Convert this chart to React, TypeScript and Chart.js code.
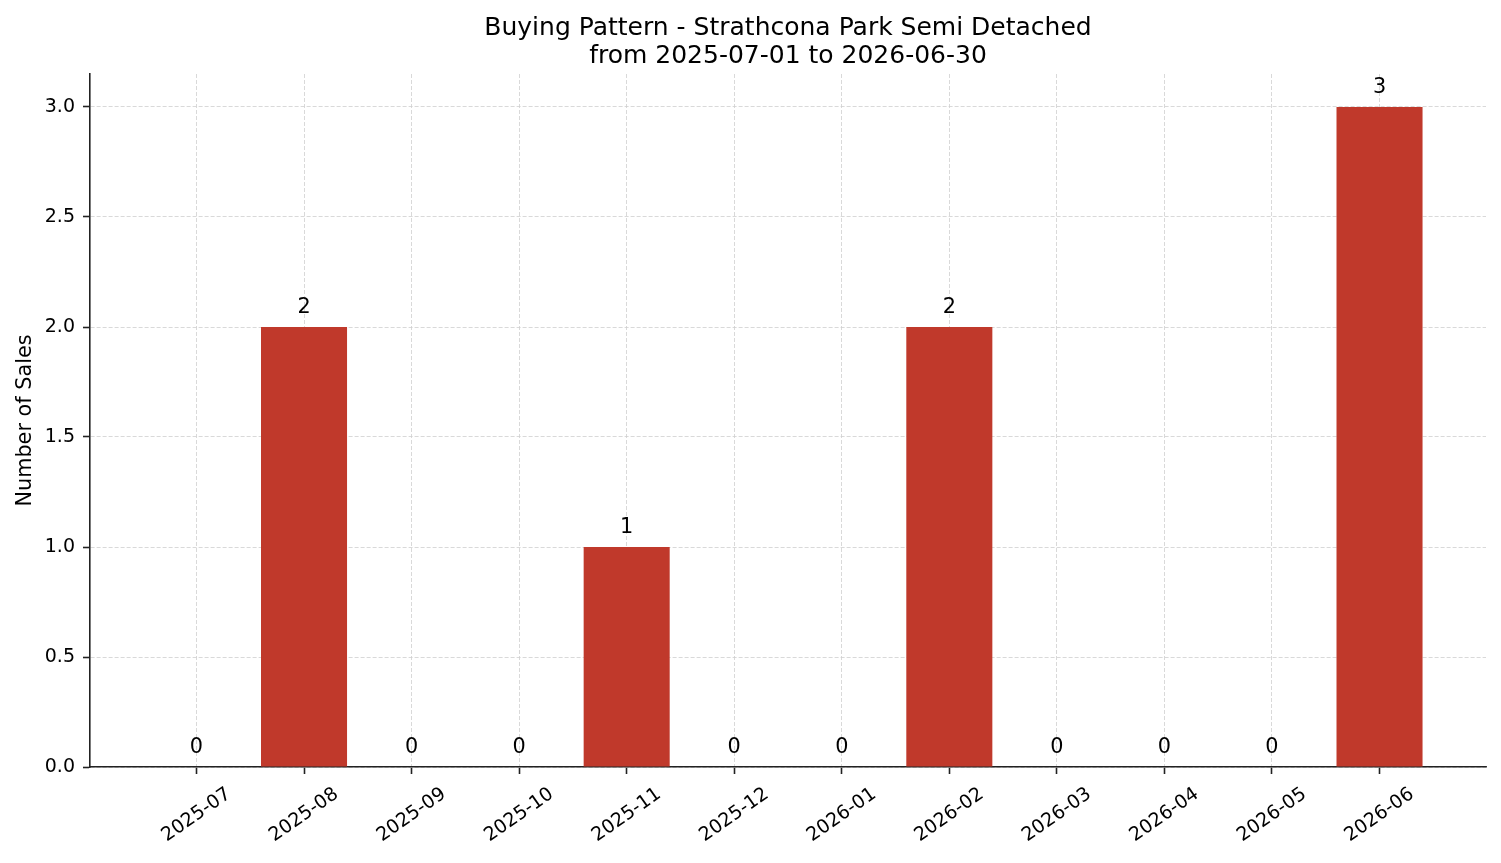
import React, { useEffect, useRef } from "react";
import { Chart, registerables } from "chart.js";

Chart.register(...registerables);

const TITLE_LINES = [
  "Buying Pattern - Strathcona Park Semi Detached",
  "from 2025-07-01 to 2026-06-30",
];
const MONTHS = [
  "2025-07", "2025-08", "2025-09", "2025-10", "2025-11", "2025-12",
  "2026-01", "2026-02", "2026-03", "2026-04", "2026-05", "2026-06",
];
const SALES = [0, 2, 0, 0, 1, 0, 0, 2, 0, 0, 0, 3];
const Y_TICKS = [0, 0.5, 1.0, 1.5, 2.0, 2.5, 3.0];
const Y_MAX = 3.15;
const Y_LABEL = "Number of Sales";

const BAR_COLOR = "#c0392b";
const GRID_COLOR = "#cfcfcf";
const AXIS_COLOR = "#222222";
const FONT = "'DejaVu Sans', 'Liberation Sans', sans-serif";
const W = 1501;
const H = 863;

export default function App() {
  const ref = useRef<HTMLCanvasElement | null>(null);

  useEffect(() => {
    document.body.style.margin = "0";
    document.body.style.overflow = "hidden";
    const canvas = ref.current;
    if (!canvas) return;

    const n = MONTHS.length;
    const span = n - 1 + 0.8;
    const xMin = -0.4 - 0.05 * span;
    const xMax = n - 1 + 0.4 + 0.05 * span;

    const overlay = {
      id: "overlay",
      afterDraw(chart: any) {
        const ctx = chart.ctx;
        const area = chart.chartArea;
        ctx.save();
        ctx.fillStyle = "#000";
        ctx.textAlign = "center";
        ctx.textBaseline = "alphabetic";
        ctx.font = `25px ${FONT}`;
        const cx = (area.left + area.right) / 2;
        ctx.fillText(TITLE_LINES[0], cx, 35);
        ctx.fillText(TITLE_LINES[1], cx, 63);

        ctx.font = `20.8px ${FONT}`;
        const meta = chart.getDatasetMeta(0);
        meta.data.forEach((bar: any, i: number) => {
          ctx.fillText(String(SALES[i]), bar.x, bar.y - 14);
        });

        const xs = chart.scales.x;
        ctx.font = `19px ${FONT}`;
        ctx.textAlign = "center";
        ctx.textBaseline = "middle";
        MONTHS.forEach((m, i) => {
          const px = xs.getPixelForValue(i);
          ctx.save();
          ctx.translate(px, area.bottom + 48);
          ctx.rotate((-35 * Math.PI) / 180);
          ctx.fillText(m, 0, 0);
          ctx.restore();
        });
        ctx.restore();
      },
    };

    const gridOpts = {
      color: GRID_COLOR,
      lineWidth: 0.8,
      offset: false,
      drawTicks: true,
      tickLength: 7,
      tickColor: AXIS_COLOR,
      tickWidth: 1.6,
      tickBorderDash: [],
    };

    const chart = new Chart(canvas, {
      type: "bar",
      data: {
        datasets: [
          {
            data: SALES.map((v, i) => ({ x: i, y: v })),
            backgroundColor: BAR_COLOR,
            borderWidth: 0,
            barPercentage: 0.8,
            categoryPercentage: 1,
          },
        ],
      },
      options: {
        responsive: false,
        animation: false,
        layout: { padding: { top: 74, left: 0, right: 15, bottom: 0 } },
        plugins: {
          legend: { display: false },
          title: { display: false },
          tooltip: { enabled: false },
        },
        scales: {
          x: {
            type: "linear",
            offset: false,
            min: xMin,
            max: xMax,
            z: 1,
            afterBuildTicks: (s: any) => {
              s.ticks = MONTHS.map((_, i) => ({ value: i }));
            },
            afterFit: (s: any) => {
              s.height = 96;
            },
            ticks: { display: false },
            grid: gridOpts,
            border: { display: true, color: AXIS_COLOR, width: 1.6, dash: [4, 2] },
          },
          y: {
            type: "linear",
            min: 0,
            max: Y_MAX,
            z: 1,
            afterBuildTicks: (s: any) => {
              s.ticks = Y_TICKS.map((v) => ({ value: v }));
            },
            afterFit: (s: any) => {
              s.width = 90;
            },
            ticks: {
              color: "#000",
              padding: 8,
              font: { family: FONT, size: 19 },
              callback: (v: any) => Number(v).toFixed(1),
            },
            grid: gridOpts,
            border: { display: true, color: AXIS_COLOR, width: 1.6, dash: [4, 2] },
            title: {
              display: true,
              text: Y_LABEL,
              color: "#000",
              font: { family: FONT, size: 20.8 },
              padding: { top: 13, bottom: 0 },
            },
          },
        },
      },
      plugins: [overlay],
    } as any);

    return () => chart.destroy();
  }, []);

  return (
    <div style={{ width: W, height: H, background: "#fff" }}>
      <canvas ref={ref} width={W} height={H} style={{ display: "block" }} />
    </div>
  );
}
